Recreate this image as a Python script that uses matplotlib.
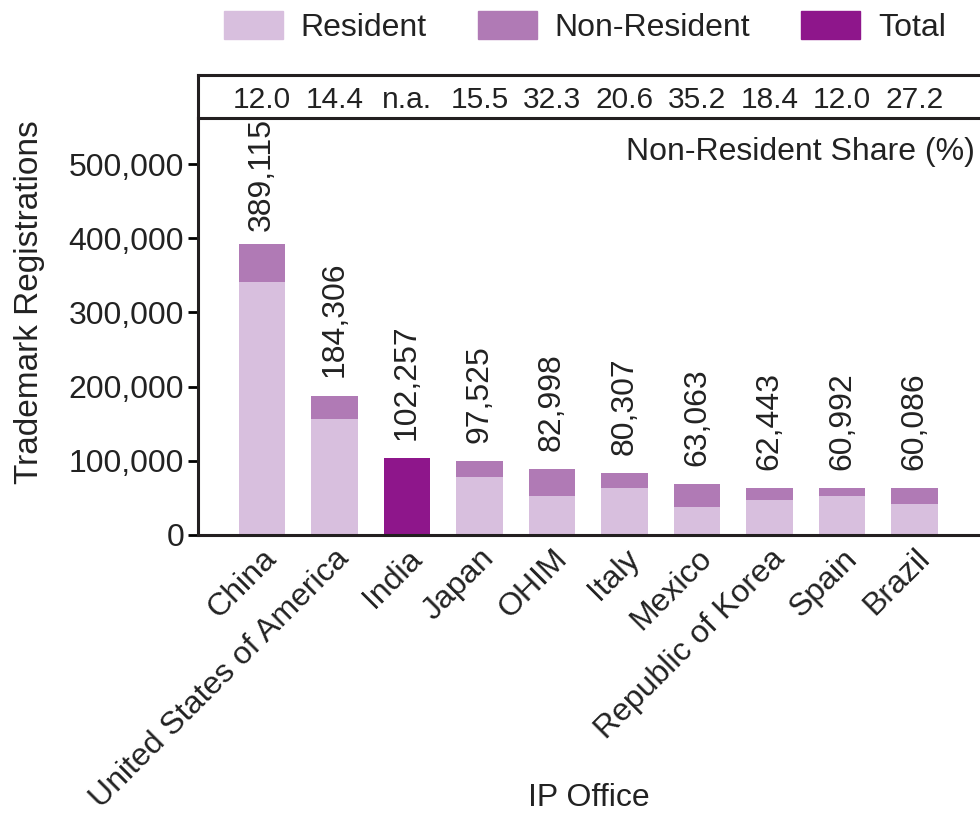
import matplotlib
matplotlib.use("Agg")
import matplotlib.pyplot as plt
import numpy as np
from matplotlib.patches import Patch

offices = ["China", "United States of America", "India", "Japan", "OHIM", "Italy",
           "Mexico", "Republic of Korea", "Spain", "Brazil"]
resident = [341000, 156000, 0, 78000, 52500, 63000, 37700, 47000, 52500, 42000]
non_resident = [51000, 32000, 0, 22000, 36500, 20500, 31000, 16300, 10800, 21300]
total_only = [0, 0, 104000, 0, 0, 0, 0, 0, 0, 0]
total_labels = ["389,115", "184,306", "102,257", "97,525", "82,998", "80,307",
                "63,063", "62,443", "60,992", "60,086"]
share_labels = ["12.0", "14.4", "n.a.", "15.5", "32.3", "20.6", "35.2", "18.4", "12.0", "27.2"]
yticks = [0, 100000, 200000, 300000, 400000, 500000]

c_res = "#d8bfde"
c_non = "#b07ab5"
c_tot = "#8e168b"
txt = "#222222"
fs = 23
plt.rcParams["font.family"] = ["Liberation Sans", "DejaVu Sans"]

fig = plt.figure(figsize=(9.8, 8.4), dpi=100)
W, H = 980, 840
left = 198 / W
ax = fig.add_axes([left, (H - 535) / H, 1 - left, (535 - 118) / H])
axt = fig.add_axes([left, (H - 118) / H, 1 - left, (118 - 75) / H])

x = np.arange(len(offices))
bw = 0.64
res = np.array(resident)
non = np.array(non_resident)
tot = np.array(total_only)
ax.bar(x, res, bw, color=c_res, zorder=2)
ax.bar(x, non, bw, bottom=res, color=c_non, zorder=2)
ax.bar(x, tot, bw, color=c_tot, zorder=2)

ymax = 562000
ax.set_ylim(0, ymax)
ax.set_xlim(-0.88, 9.90)
heights = res + non + tot
for i, lab in enumerate(total_labels):
    h = heights[i]
    if i == 0:
        ax.text(x[i], ymax, lab, rotation=90, ha="center", va="top",
                fontsize=fs, color=txt, zorder=3)
    else:
        ax.annotate(lab, (x[i], h), xytext=(0, 13), textcoords="offset points",
                    rotation=90, ha="center", va="bottom", fontsize=fs, color=txt)

ax.set_yticks(yticks)
ax.set_yticklabels([f"{v:,}" for v in yticks], fontsize=fs, color=txt)
ax.set_xticks(x)
ax.set_xticklabels(offices, rotation=45, ha="right", va="top",
                   rotation_mode="anchor", fontsize=fs, color=txt)
ax.tick_params(axis="x", length=0, pad=6)
ax.tick_params(axis="y", length=7, width=2, direction="out", pad=3)
for s in ["top", "right"]:
    ax.spines[s].set_visible(False)
for s in ["left", "bottom"]:
    ax.spines[s].set_linewidth(2.2)
    ax.spines[s].set_color("#231f20")
ax.text(0.9936, 0.918, "Non-Resident Share (%)", transform=ax.transAxes,
        ha="right", va="center", fontsize=fs, color=txt)

axt.set_xlim(ax.get_xlim())
axt.set_ylim(0, 1)
for i, s in enumerate(share_labels):
    axt.text(x[i], 0.42, s, ha="center", va="center", fontsize=fs - 1.5, color=txt)
axt.set_xticks([])
axt.set_yticks([])
axt.spines["right"].set_visible(False)
for s in ["left", "top", "bottom"]:
    axt.spines[s].set_linewidth(2.2)
    axt.spines[s].set_color("#231f20")

fig.text(30 / W, (H - 302) / H, "Trademark Registrations", rotation=90,
         ha="center", va="center", fontsize=fs + 1, color=txt)
fig.text(589 / W, (H - 798) / H, "IP Office", ha="center", va="center",
         fontsize=fs, color=txt)

handles = [Patch(color=c_res, label="Resident"), Patch(color=c_non, label="Non-Resident"),
           Patch(color=c_tot, label="Total")]
fig.legend(handles=handles, loc="center", bbox_to_anchor=(585 / W, (H - 27) / H),
           ncol=3, frameon=False, fontsize=fs, handlelength=1.85, handleheight=1.0,
           columnspacing=1.6, handletextpad=0.55, labelcolor=txt)

fig.savefig("out.png", dpi=100)
